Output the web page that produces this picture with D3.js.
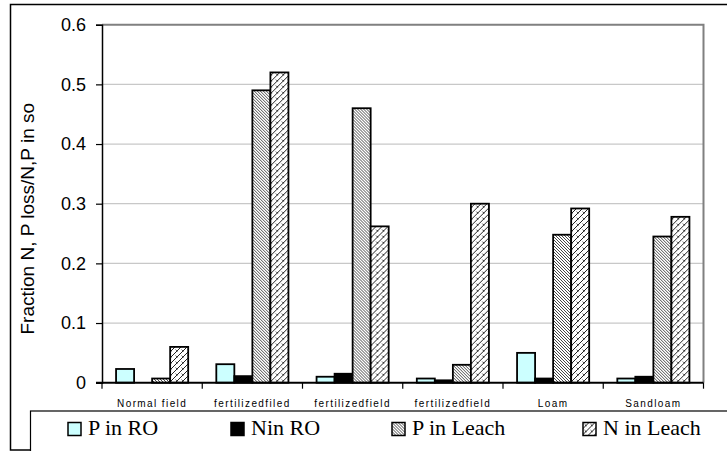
<!DOCTYPE html>
<html>
<head>
<meta charset="utf-8">
<script src="https://cdn.jsdelivr.net/npm/d3@7"></script>
<style>
  html, body { margin: 0; padding: 0; background: #fff; }
  svg { display: block; }
</style>
</head>
<body>
<div id="chart"></div>
<script>
// Soil N/P loss fractions per field type
const categories = ["Normal field", "fertilizedfiled", "fertilizedfield", "fertilizedfield", "Loam", "Sandloam"];
const seriesNames = ["P in RO", "Nin RO", "P in Leach", "N in Leach"];
const pInRO    = [0.023, 0.031, 0.010, 0.007, 0.050, 0.007];
const nInRO    = [0.000, 0.011, 0.015, 0.004, 0.007, 0.010];
const pInLeach = [0.007, 0.490, 0.460, 0.030, 0.248, 0.245];
const nInLeach = [0.060, 0.520, 0.262, 0.300, 0.292, 0.278];
const yTicks = [0, 0.1, 0.2, 0.3, 0.4, 0.5, 0.6];
const yLabel = "Fraction N, P loss/N,P in so";

const seriesValues = [pInRO, nInRO, pInLeach, nInLeach];

const SANS = "'Liberation Sans', Arial, sans-serif";
const SERIF = "'Liberation Serif', 'DejaVu Serif', 'Times New Roman', serif";

const W = 727, H = 451;
const plot = { left: 102, right: 703.5, top: 24.7, bottom: 382.7 };

const svg = d3.select("#chart").append("svg")
  .attr("width", W).attr("height", H);

// fill patterns
const defs = svg.append("defs");
const pl = defs.append("pattern").attr("id", "pLeach")
  .attr("patternUnits", "userSpaceOnUse").attr("width", 3).attr("height", 3);
pl.append("rect").attr("width", 3).attr("height", 3).attr("fill", "#fff");
pl.append("path").attr("d", "M-1,-1 L4,4 M-1,2 L1,4 M2,-1 L4,1")
  .attr("stroke", "#333").attr("stroke-width", 0.9);

const nl = defs.append("pattern").attr("id", "nLeach")
  .attr("patternUnits", "userSpaceOnUse").attr("width", 6).attr("height", 6);
nl.append("rect").attr("width", 6).attr("height", 6).attr("fill", "#fff");
nl.append("path").attr("d", "M-1,7 L7,-1 M-1,1 L1,-1 M5,7 L7,5")
  .attr("stroke", "#222").attr("stroke-width", 1);
nl.append("path").attr("d", "M1.5,1.5 L3.5,3.5")
  .attr("stroke", "#333").attr("stroke-width", 0.8);

const fills = ["#ccffff", "#000000", "url(#pLeach)", "url(#nLeach)"];

// outer chart frame
svg.append("rect").attr("x", 10.5).attr("y", 4.5).attr("width", 730).attr("height", 445.5)
  .attr("fill", "none").attr("stroke", "#000").attr("stroke-width", 1.5);

// scales
const x0 = d3.scaleBand().domain(d3.range(categories.length))
  .range([plot.left, plot.right]).paddingInner(0).paddingOuter(0);
const x1 = d3.scaleBand().domain(d3.range(seriesNames.length))
  .range([0, x0.bandwidth()]).paddingInner(0).paddingOuter(0.78);
const y = d3.scaleLinear().domain([0, 0.6]).range([plot.bottom, plot.top]);

// gridlines
svg.append("g").selectAll("line").data(yTicks.filter(t => t > 0 && t < 0.6)).join("line")
  .attr("x1", plot.left).attr("x2", plot.right)
  .attr("y1", d => y(d)).attr("y2", d => y(d))
  .attr("stroke", "#c8c8c8").attr("stroke-width", 1.3);

// plot area top/right border
svg.append("path")
  .attr("d", `M${plot.left},${y(0.6)} H${plot.right} V${plot.bottom}`)
  .attr("fill", "none").attr("stroke", "#808080").attr("stroke-width", 2);

// bars
const groups = svg.append("g").selectAll("g").data(categories).join("g")
  .attr("transform", (d, i) => `translate(${x0(i)},0)`);
groups.selectAll("rect")
  .data((d, i) => seriesValues.map((vals, s) => ({ s, v: vals[i] })))
  .join("rect")
  .attr("x", d => x1(d.s))
  .attr("width", x1.bandwidth())
  .attr("y", d => y(d.v))
  .attr("height", d => y(0) - y(d.v))
  .attr("fill", d => fills[d.s])
  .attr("stroke", "#000").attr("stroke-width", 1.8)
  .attr("display", d => d.v > 0 ? null : "none");

// y axis
const yAxis = svg.append("g").attr("transform", `translate(${plot.left},0)`)
  .call(d3.axisLeft(y).tickValues(yTicks).tickSize(6).tickPadding(10)
    .tickFormat(d => d === 0 ? "0" : d3.format(".1f")(d)));
yAxis.select(".domain").attr("stroke", "#000").attr("stroke-width", 1.5);
yAxis.selectAll(".tick line").attr("stroke", "#000").attr("stroke-width", 1.2);
yAxis.selectAll(".tick text")
  .style("font-family", SANS).style("font-size", "18px").attr("fill", "#000");

// x axis with ticks at category boundaries
const xAxisG = svg.append("g").attr("transform", `translate(0,${plot.bottom})`);
xAxisG.append("line").attr("x1", plot.left - 6).attr("x2", plot.right)
  .attr("stroke", "#000").attr("stroke-width", 2);
const bounds = d3.range(categories.length + 1).map(i => i < categories.length ? x0(i) : x0(i - 1) + x0.bandwidth());
xAxisG.selectAll("line.tk").data(bounds).join("line").attr("class", "tk")
  .attr("x1", d => d).attr("x2", d => d).attr("y1", 0).attr("y2", 6)
  .attr("stroke", "#000").attr("stroke-width", 1.2);
xAxisG.selectAll("text").data(categories).join("text")
  .attr("x", (d, i) => x0(i) + x0.bandwidth() / 2)
  .attr("y", 24.5)
  .attr("text-anchor", "middle")
  .style("font-family", SANS).style("font-size", "10px")
  .style("letter-spacing", "1.4px")
  .attr("fill", "#000")
  .text(d => d);

// y axis title
svg.append("text")
  .attr("transform", `translate(34,${(plot.top + plot.bottom) / 2 + 15}) rotate(-90)`)
  .attr("text-anchor", "middle")
  .style("font-family", SANS).style("font-size", "19px").attr("fill", "#000")
  .text(yLabel);

// legend
const legend = svg.append("g");
legend.append("rect").attr("x", 30.5).attr("y", 411).attr("width", 720).attr("height", 50)
  .attr("fill", "#fff").attr("stroke", "#000").attr("stroke-width", 1.2);
const legendX = [68, 231, 392, 583];
const li = legend.selectAll("g.item").data(seriesNames).join("g").attr("class", "item")
  .attr("transform", (d, i) => `translate(${legendX[i]},422.5)`);
li.append("rect").attr("width", 13).attr("height", 13)
  .attr("fill", (d, i) => fills[i]).attr("stroke", "#000").attr("stroke-width", 1.5);
li.append("text").attr("x", 20).attr("y", 12)
  .style("font-family", SERIF).style("font-size", "22px").attr("fill", "#000")
  .text(d => d);
</script>
</body>
</html>
